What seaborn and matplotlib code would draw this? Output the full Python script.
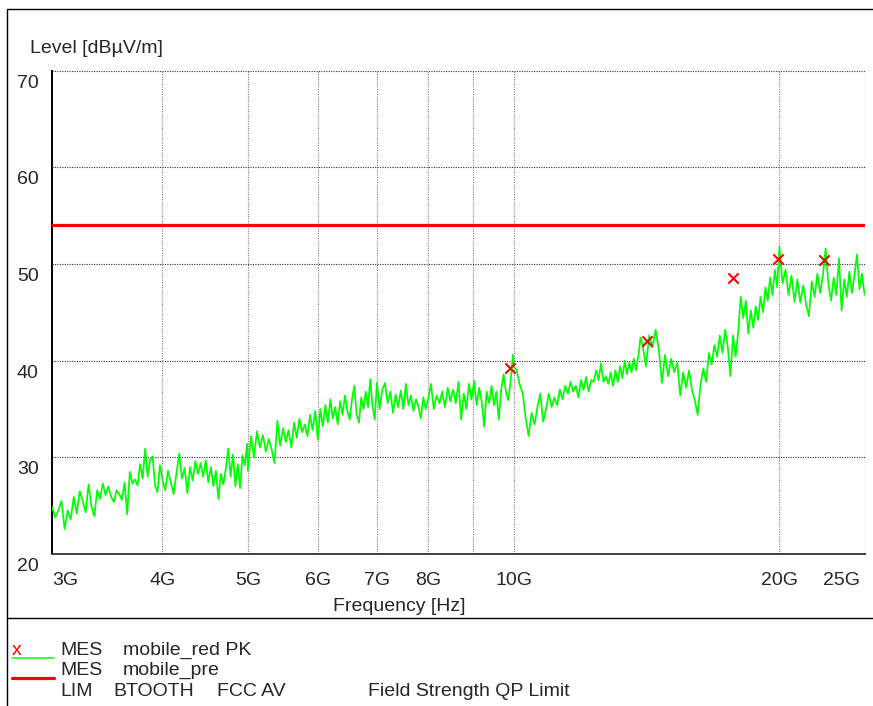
import matplotlib
matplotlib.use("Agg")
import matplotlib.pyplot as plt
import matplotlib.transforms as mtransforms
from matplotlib.lines import Line2D
from matplotlib.ticker import NullLocator
import pandas as pd
import seaborn as sns

# ---------------- measured trace (frequency in GHz, level in dBuV/m) ----------------
band_3_4_freq = [3.000, 3.025, 3.050, 3.075, 3.100, 3.125, 3.150, 3.175, 3.200, 3.225,
                 3.250, 3.275, 3.300, 3.325, 3.350, 3.375, 3.400, 3.425, 3.450, 3.475,
                 3.500, 3.525, 3.550, 3.575, 3.600, 3.625, 3.650, 3.675, 3.700, 3.725,
                 3.750, 3.775, 3.800, 3.825, 3.850, 3.875, 3.900, 3.925, 3.950, 3.975]
band_3_4_level = [24.9, 23.8, 24.5, 25.5, 22.6, 24.5, 23.6, 25.9, 24.2, 26.5,
                  25.5, 24.3, 27.2, 24.9, 23.9, 26.6, 25.7, 27.3, 26.1, 27.0,
                  25.9, 25.4, 26.6, 26.2, 25.6, 27.4, 24.1, 28.5, 27.3, 27.7,
                  27.1, 29.3, 27.8, 30.9, 28.0, 29.8, 30.1, 27.1, 26.4, 29.2]

band_4_5_freq = [4.00, 4.03, 4.06, 4.09, 4.12, 4.15, 4.18, 4.21, 4.24, 4.27,
                 4.30, 4.33, 4.36, 4.39, 4.42, 4.45, 4.48, 4.51, 4.54, 4.57,
                 4.60, 4.63, 4.66, 4.69, 4.72, 4.75, 4.78, 4.81, 4.84, 4.87,
                 4.90, 4.93, 4.96, 4.99]
band_4_5_level = [27.8, 26.6, 28.6, 27.4, 26.2, 28.3, 30.4, 27.8, 28.9, 26.3,
                  29.0, 27.6, 29.6, 28.3, 29.4, 28.0, 29.7, 27.4, 29.0, 27.0,
                  28.6, 25.7, 28.3, 27.2, 28.8, 30.9, 28.0, 30.3, 27.0, 29.3,
                  26.8, 30.2, 29.2, 31.4]

band_5_6_freq = [5.00, 5.04, 5.08, 5.12, 5.16, 5.20, 5.24, 5.28, 5.32, 5.36,
                 5.40, 5.44, 5.48, 5.52, 5.56, 5.60, 5.64, 5.68, 5.72, 5.76,
                 5.80, 5.84, 5.88, 5.92, 5.96]
band_5_6_level = [28.6, 32.2, 30.0, 32.7, 31.0, 32.3, 30.6, 31.9, 30.8, 29.4,
                  33.8, 31.2, 33.0, 31.6, 32.8, 31.0, 33.6, 32.0, 34.0, 32.6,
                  33.4, 32.2, 34.4, 32.8, 34.8]

band_6_7_freq = [6.00, 6.04, 6.08, 6.12, 6.16, 6.20, 6.24, 6.28, 6.32, 6.36,
                 6.40, 6.44, 6.48, 6.52, 6.56, 6.60, 6.64, 6.68, 6.72, 6.76,
                 6.80, 6.84, 6.88, 6.92, 6.96]
band_6_7_level = [31.8, 35.0, 33.2, 35.4, 33.6, 36.0, 34.0, 35.2, 33.4, 35.8,
                  34.4, 36.4, 34.8, 33.9, 36.0, 37.4, 34.4, 33.6, 36.2, 35.0,
                  36.8, 35.2, 38.1, 35.4, 33.9]

band_7_8_freq = [7.00, 7.05, 7.10, 7.15, 7.20, 7.25, 7.30, 7.35, 7.40, 7.45,
                 7.50, 7.55, 7.60, 7.65, 7.70, 7.75, 7.80, 7.85, 7.90, 7.95]
band_7_8_level = [37.7, 35.0, 37.0, 37.7, 35.6, 36.8, 34.6, 36.5, 35.2, 36.9,
                  35.0, 37.6, 35.4, 36.4, 34.8, 36.0, 35.3, 34.0, 36.2, 35.0]

band_8_10_freq = [8.00, 8.06, 8.12, 8.18, 8.24, 8.30, 8.36, 8.42, 8.48, 8.54,
                  8.60, 8.66, 8.72, 8.78, 8.84, 8.90, 8.96, 9.02, 9.08, 9.14,
                  9.20, 9.26, 9.32, 9.38, 9.44, 9.50, 9.56, 9.62, 9.68, 9.74,
                  9.80, 9.86, 9.92, 9.98, 10.00]
band_8_10_level = [36.0, 37.6, 35.0, 36.4, 35.6, 36.8, 35.2, 37.2, 35.8, 37.0,
                   35.6, 37.8, 33.9, 36.6, 35.0, 37.6, 36.0, 37.9, 35.4, 37.2,
                   35.8, 33.2, 36.8, 35.6, 37.4, 35.4, 36.8, 33.9, 37.0, 38.6,
                   36.8, 35.9, 37.8, 40.6, 39.4]

band_10_14_freq = [10.08, 10.16, 10.24, 10.32, 10.40, 10.48, 10.56, 10.64, 10.72, 10.80,
                   10.88, 10.96, 11.04, 11.12, 11.20, 11.28, 11.36, 11.44, 11.52, 11.60,
                   11.68, 11.76, 11.84, 11.92, 12.00, 12.08, 12.16, 12.24, 12.32, 12.40,
                   12.48, 12.56, 12.64, 12.72, 12.80, 12.88, 12.96, 13.04, 13.12, 13.20,
                   13.28, 13.36, 13.44, 13.52, 13.60, 13.68, 13.76, 13.84, 13.92]
band_10_14_level = [39.0, 37.5, 36.6, 34.0, 32.2, 34.6, 33.4, 35.2, 36.6, 33.7,
                    35.0, 36.6, 35.2, 36.2, 35.4, 37.0, 36.0, 37.4, 36.6, 37.8,
                    36.8, 37.4, 36.2, 38.0, 37.0, 38.3, 36.8, 38.0, 37.8, 39.0,
                    38.0, 39.7, 37.8, 38.4, 37.6, 38.8, 37.4, 39.0, 37.8, 39.4,
                    38.2, 40.0, 38.6, 39.8, 38.8, 40.2, 39.0, 40.4, 42.4]

band_14_20_freq = [14.00, 14.12, 14.24, 14.36, 14.48, 14.60, 14.72, 14.84, 14.96, 15.08,
                   15.20, 15.32, 15.44, 15.56, 15.68, 15.80, 15.92, 16.04, 16.16, 16.28,
                   16.40, 16.52, 16.64, 16.76, 16.88, 17.00, 17.12, 17.24, 17.36, 17.48,
                   17.60, 17.72, 17.84, 17.96, 18.08, 18.20, 18.32, 18.44, 18.56, 18.68,
                   18.80, 18.92, 19.04, 19.16, 19.28, 19.40, 19.52, 19.64, 19.76, 19.88]
band_14_20_level = [41.6, 39.4, 42.6, 41.4, 43.2, 41.2, 37.7, 40.6, 38.4, 40.2,
                    38.8, 39.8, 36.4, 38.8, 37.2, 39.0, 37.0, 35.9, 34.4, 37.6,
                    39.2, 37.8, 40.8, 39.6, 41.6, 40.4, 42.6, 40.8, 43.2, 41.4,
                    38.4, 42.6, 40.4, 43.0, 46.6, 44.4, 46.2, 42.8, 45.2, 43.4,
                    45.6, 44.2, 46.6, 45.0, 47.6, 46.2, 48.6, 46.8, 49.4, 47.6]

band_20_25_freq = [20.00, 20.16, 20.32, 20.48, 20.64, 20.80, 20.96, 21.12, 21.28, 21.44,
                   21.60, 21.76, 21.92, 22.08, 22.24, 22.40, 22.56, 22.72, 22.88, 23.04,
                   23.20, 23.36, 23.52, 23.68, 23.84, 24.00, 24.16, 24.32, 24.48, 24.64,
                   24.80, 24.96, 25.00]
band_20_25_level = [51.8, 48.0, 49.4, 46.8, 48.8, 46.1, 48.4, 46.0, 47.8, 45.8,
                    44.6, 48.2, 46.6, 49.0, 47.0, 48.8, 51.6, 48.0, 46.2, 48.6,
                    46.8, 50.6, 45.2, 48.4, 46.6, 49.2, 47.0, 48.8, 51.0, 47.4,
                    49.0, 47.0, 46.8]

# final peak measurements (x markers)
peak_freq = [9.90, 14.17, 17.73, 19.94, 22.46]
peak_level = [39.2, 42.0, 48.6, 50.5, 50.4]

# FCC AV limit
limit_freq = [3.0, 25.0]
limit_level = [54.0, 54.0]

# axis ticks
xtick_ghz = [3, 4, 5, 6, 7, 8, 9, 10, 20, 25]
xtick_text = ["3G", "4G", "5G", "6G", "7G", "8G", "", "10G", "20G", "25G"]
ytick_vals = [20, 30, 40, 50, 60, 70]

# legend rows: (texts with their x pixel positions, baseline pixel)
legend_rows = [
    ([("MES", 60), ("mobile_red PK", 123)], 655),
    ([("MES", 60), ("mobile_pre", 123)], 675),
    ([("LIM", 60), ("BTOOTH", 113), ("FCC AV", 217), ("Field Strength QP Limit", 368)], 696),
]

trace = pd.DataFrame({
    "freq": (band_3_4_freq + band_4_5_freq + band_5_6_freq + band_6_7_freq + band_7_8_freq
             + band_8_10_freq + band_10_14_freq + band_14_20_freq + band_20_25_freq),
    "level": (band_3_4_level + band_4_5_level + band_5_6_level + band_6_7_level + band_7_8_level
              + band_8_10_level + band_10_14_level + band_14_20_level + band_20_25_level),
})
peaks = pd.DataFrame({"freq": peak_freq, "level": peak_level})
limit = pd.DataFrame({"freq": limit_freq, "level": limit_level})

# ---------------- figure ----------------
sns.set_style("white")
plt.rcParams["font.family"] = ["Liberation Sans", "DejaVu Sans"]
plt.rcParams["font.size"] = 14

W, H = 873, 706
fig = plt.figure(figsize=(W / 100, H / 100), dpi=100)


def fx(px):
    return px / W


def fy(py):
    return 1 - py / H


ax = fig.add_axes([fx(52), fy(554), fx(865) - fx(52), fy(70.7) - fy(554)])

sns.lineplot(data=trace, x="freq", y="level", ax=ax, color="#00ff00", linewidth=1.25,
             estimator=None, sort=False, legend=False, zorder=3)
sns.lineplot(data=limit, x="freq", y="level", ax=ax, color="#ff0000", linewidth=2.3,
             estimator=None, legend=False, zorder=4)
sns.scatterplot(data=peaks, x="freq", y="level", ax=ax, marker="x", color="#ff0000",
                s=55, linewidth=1.5, legend=False, zorder=5)

ax.set_xscale("log")
ax.set_xlim(3, 25)
ax.set_ylim(20, 70)
ax.set_xticks(xtick_ghz)
ax.set_yticks(ytick_vals)
ax.xaxis.set_minor_locator(NullLocator())
ax.set_xticklabels([])
ax.set_yticklabels([])
ax.set_xlabel("")
ax.set_ylabel("")
ax.tick_params(length=0)

ax.grid(False)
ax.xaxis.grid(True, color="#808080", linestyle=(0, (1, 1.2)), linewidth=0.8)
ax.yaxis.grid(True, color="#303030", linestyle=(0, (1, 1.2)), linewidth=0.8)
ax.set_axisbelow(True)

for side in ("top", "right"):
    ax.spines[side].set_visible(False)
ax.spines["left"].set_color("#000000")
ax.spines["left"].set_linewidth(1.4)
ax.spines["bottom"].set_color("#404040")
ax.spines["bottom"].set_linewidth(1.4)

# y tick labels sit just below their grid lines
for v in ytick_vals:
    tr = ax.get_yaxis_transform() + mtransforms.ScaledTranslation(-0.135, -0.17, fig.dpi_scale_trans)
    ax.text(0, v, f"{v}", transform=tr, ha="right", va="baseline", fontsize=14)

# x tick labels
for f, lab in zip(xtick_ghz, xtick_text):
    if not lab:
        continue
    if f == xtick_ghz[0]:
        ha, dx = "left", 0.0
    elif f == xtick_ghz[-1]:
        ha, dx = "right", -0.05
    else:
        ha, dx = "center", 0.0
    tr = ax.get_xaxis_transform() + mtransforms.ScaledTranslation(dx, -0.31, fig.dpi_scale_trans)
    ax.text(f, 0, lab, transform=tr, ha=ha, va="baseline", fontsize=14)

fig.text(fx(30), fy(53), "Level [dBµV/m]", ha="left", va="baseline", fontsize=14)
fig.text(fx(399.5), fy(611), "Frequency [Hz]", ha="center", va="baseline", fontsize=14)

# page frame and legend separator
fig.add_artist(Line2D([fx(6.5), 1], [fy(9), fy(9)], color="black", linewidth=1.0))
fig.add_artist(Line2D([fx(6.5), fx(6.5)], [fy(9), 0], color="black", linewidth=1.0))
fig.add_artist(Line2D([fx(6.5), 1], [fy(617.5), fy(617.5)], color="black", linewidth=1.0))

# legend block
fig.text(fx(11.5), fy(655), "x", color="#ff0000", ha="left", va="baseline", fontsize=14)
fig.add_artist(Line2D([fx(11.5), fx(54)], [fy(657.5), fy(657.5)], color="#00ff00", linewidth=1.1))
fig.add_artist(Line2D([fx(11.5), fx(54)], [fy(677.5), fy(677.5)], color="#ff0000", linewidth=2.3))
for items, base in legend_rows:
    for txt, xpx in items:
        fig.text(fx(xpx), fy(base), txt, ha="left", va="baseline", fontsize=14)

fig.savefig("out.png", dpi=100)
